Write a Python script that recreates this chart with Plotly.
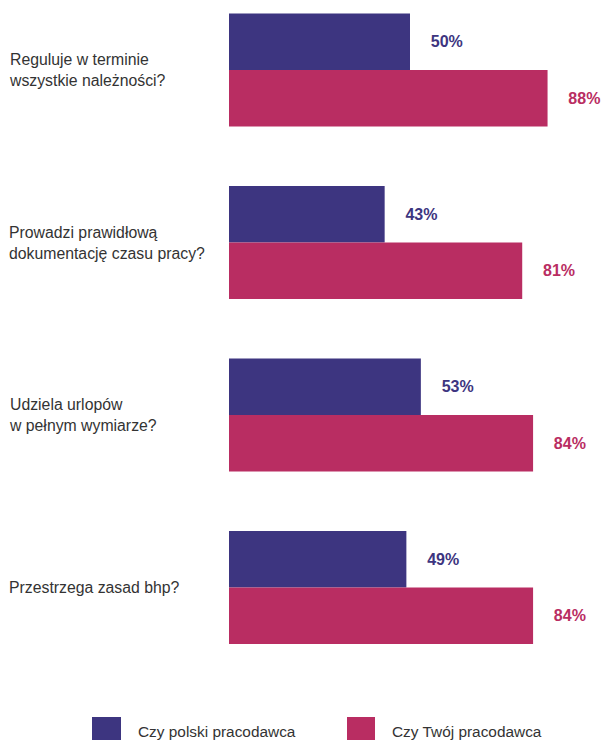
import plotly.graph_objects as go

categories = [
    "Reguluje w terminie<br>wszystkie należności?",
    "Prowadzi prawidłową<br>dokumentację czasu pracy?",
    "Udziela urlopów<br>w pełnym wymiarze?",
    "Przestrzega zasad bhp?",
]
series_names = ["Czy polski pracodawca", "Czy Twój pracodawca"]
polski = [50, 43, 53, 49]
twoj = [88, 81, 84, 84]
colors = ["#3d3580", "#b92d62"]

W, H = 603, 740
L, R, T, B = 229, 12, 0, 40
PW, PH = W - L - R, H - T - B

font_family = "Liberation Sans, Arial, sans-serif"

fig = go.Figure()
for name, vals, col in zip(series_names, [polski, twoj], colors):
    fig.add_trace(go.Bar(
        y=categories, x=vals, orientation="h", name=name,
        marker=dict(color=col, line=dict(width=0)),
        text=[f"{v}%" for v in vals],
        texttemplate="    %{text}",
        textposition="outside",
        textfont=dict(family=font_family, size=16, color=col, weight="bold"),
        constraintext="none", cliponaxis=False, showlegend=False,
    ))

annotations = []
for c in categories:
    annotations.append(dict(
        x=(7 - L) / PW, xref="paper", y=c, yref="y",
        text=c, showarrow=False, xanchor="left", yanchor="middle", align="left",
        font=dict(family=font_family, size=15.8, color="#333333"),
    ))

shapes = []
legend_pos = [(92, 121, 136), (347, 375, 390)]
for (x0, x1, tx), name, col in zip(legend_pos, series_names, colors):
    shapes.append(dict(type="rect", xref="paper", yref="paper",
                       x0=(x0 - L) / PW, x1=(x1 - L) / PW,
                       y0=(PH - 717) / PH, y1=(PH - 746) / PH,
                       fillcolor=col, line=dict(width=0)))
    annotations.append(dict(
        x=(tx - L) / PW, xref="paper", y=(PH - 731) / PH, yref="paper",
        text=name, showarrow=False, xanchor="left", yanchor="middle",
        font=dict(family=font_family, size=15.4, color="#333333"),
    ))

fig.update_layout(
    width=W, height=H, barmode="group", bargap=0.345, bargroupgap=0,
    margin=dict(l=L, r=R, t=T, b=B),
    paper_bgcolor="white", plot_bgcolor="white",
    xaxis=dict(range=[0, 100], visible=False, fixedrange=True),
    yaxis=dict(range=[3.652, -0.406], showticklabels=False, showgrid=False,
               zeroline=False, showline=False, ticks=""),
    annotations=annotations, shapes=shapes,
)
fig.write_html("out.html")
